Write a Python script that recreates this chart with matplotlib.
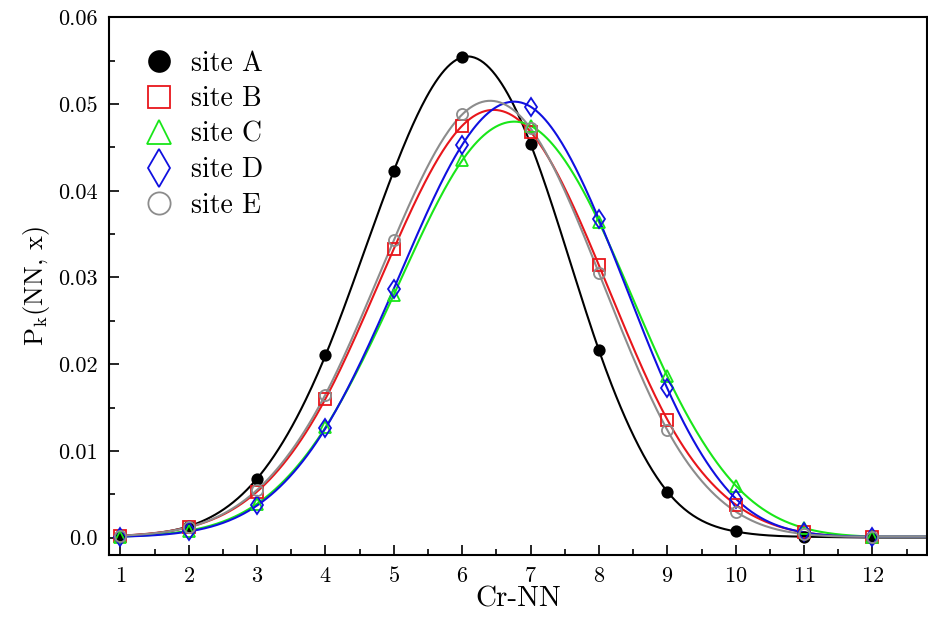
import matplotlib
matplotlib.use('Agg')
import matplotlib.pyplot as plt
import numpy as np
from matplotlib.ticker import MultipleLocator, FuncFormatter

plt.rcParams['font.family'] = 'cmr10'
plt.rcParams['mathtext.fontset'] = 'cm'
plt.rcParams['axes.formatter.use_mathtext'] = True

nn = [1, 2, 3, 4, 5, 6, 7, 8, 9, 10, 11, 12]
site_a = [0.0002, 0.0013, 0.0068, 0.0210, 0.0423, 0.0554, 0.0454, 0.0216, 0.0053, 0.0007, 0.0001, 0.0000]
site_b = [0.0002, 0.0012, 0.0053, 0.0160, 0.0333, 0.0475, 0.0468, 0.0314, 0.0136, 0.0038, 0.0006, 0.0001]
site_c = [0.0001, 0.0008, 0.0039, 0.0127, 0.0280, 0.0435, 0.0475, 0.0364, 0.0186, 0.0060, 0.0011, 0.0001]
site_d = [0.0001, 0.0007, 0.0037, 0.0126, 0.0287, 0.0453, 0.0497, 0.0367, 0.0172, 0.0045, 0.0006, 0.0001]
site_e = [0.0002, 0.0012, 0.0055, 0.0165, 0.0343, 0.0488, 0.0472, 0.0305, 0.0124, 0.0030, 0.0004, 0.0001]

labels = ['site A', 'site B', 'site C', 'site D', 'site E']


def natural_spline(x, y, xs):
    ''' natural cubic spline through (x, y), evaluated on xs '''
    x = np.asarray(x, float)
    y = np.asarray(y, float)
    n = len(x)
    h = np.diff(x)
    A = np.zeros((n, n))
    r = np.zeros(n)
    A[0, 0] = A[-1, -1] = 1.0
    for i in range(1, n - 1):
        A[i, i - 1] = h[i - 1]
        A[i, i] = 2 * (h[i - 1] + h[i])
        A[i, i + 1] = h[i]
        r[i] = 6 * ((y[i + 1] - y[i]) / h[i] - (y[i] - y[i - 1]) / h[i - 1])
    M = np.linalg.solve(A, r)
    k = np.clip(np.searchsorted(x, xs) - 1, 0, n - 2)
    t0 = x[k + 1] - xs
    t1 = xs - x[k]
    hk = h[k]
    return (M[k] * t0 ** 3 / (6 * hk) + M[k + 1] * t1 ** 3 / (6 * hk)
            + (y[k] / hk - M[k] * hk / 6) * t0 + (y[k + 1] / hk - M[k + 1] * hk / 6) * t1)


fig = plt.figure(figsize=(9.29, 6.2), dpi=100)
ax = fig.add_axes([0.117, 0.105, 0.881, 0.867])

styles = [
    dict(color='black', marker='o', mfc='black', ms=7.5),
    dict(color='#e8161b', marker='s', mfc='none', ms=8),
    dict(color='#19e619', marker='^', mfc='none', ms=8.5),
    dict(color='#1010e0', marker='d', mfc='none', ms=9.5),
    dict(color='#8c8c8c', marker='o', mfc='none', ms=8),
]

xs = np.linspace(1, 12, 500)
for data, lab, st in zip([site_a, site_b, site_c, site_d, site_e], labels, styles):
    ys = natural_spline(nn, data, xs)
    xx = np.concatenate([xs, [12.9]])
    yy = np.concatenate([ys, [data[-1]]])
    ax.plot(xx, yy, '-', color=st['color'], lw=1.5, zorder=2)
    ax.plot(nn, data, ls='none', marker=st['marker'], color=st['color'], mfc=st['mfc'],
            mec=st['color'], ms=st['ms'], mew=1.3, label=lab, zorder=3)

ax.set_xlim(0.83, 12.8)
ax.set_ylim(-0.002, 0.06)
ax.xaxis.set_major_locator(MultipleLocator(1))
ax.xaxis.set_minor_locator(MultipleLocator(0.5))
ax.yaxis.set_major_locator(MultipleLocator(0.01))
ax.yaxis.set_minor_locator(MultipleLocator(0.005))
ax.yaxis.set_major_formatter(FuncFormatter(lambda v, p: '0.0' if abs(v) < 1e-9 else '%.2f' % v))
ax.tick_params(which='both', direction='in', top=False, right=False, labelsize=16)
ax.tick_params(axis='x', which='major', pad=8)
ax.tick_params(axis='y', which='major', pad=8)
ax.tick_params(which='major', length=7, width=1.2)
ax.tick_params(which='minor', length=4, width=1.2)
for s in ax.spines.values():
    s.set_linewidth(1.5)

ax.set_xlabel('Cr-NN', fontsize=21, labelpad=0)
ax.set_ylabel(r'$\mathrm{P_k(NN,\,x)}$', fontsize=19, labelpad=4)

leg = ax.legend(loc='upper left', bbox_to_anchor=(0.005, 0.985), frameon=False, fontsize=20,
                markerscale=2.0, handletextpad=0.4, labelspacing=0.33, handlelength=1.5)

fig.savefig('out.png', dpi=100)
